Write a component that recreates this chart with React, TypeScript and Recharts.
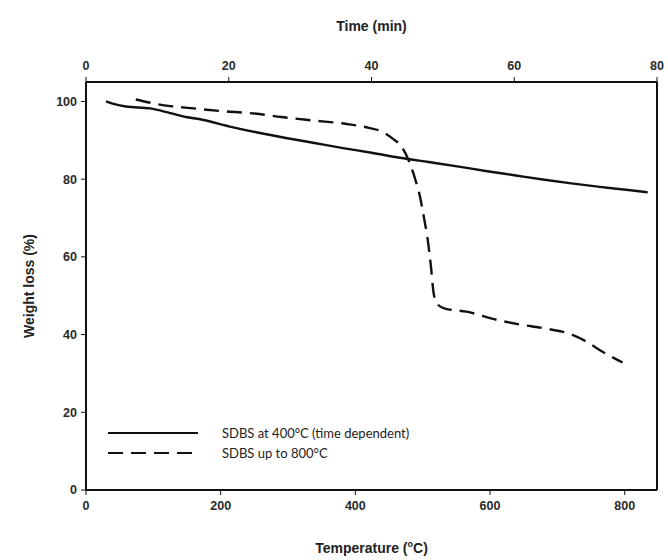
import React from 'react';
import { LineChart, Line, XAxis, YAxis } from 'recharts';

// SDBS at 400°C, weight (%) against time (min)
const timeMin = [2.8, 4, 5.6, 9, 11.8, 14, 16, 20, 24, 28, 32, 36, 40, 44, 48, 52, 56, 60, 64, 68, 72, 76, 78.7];
const weightAt400 = [100, 99.3, 98.7, 98.2, 97, 96, 95.4, 93.6, 92, 90.6, 89.3, 88, 86.8, 85.5, 84.4, 83.3, 82.1, 81, 79.9, 78.9, 78, 77.2, 76.6];

// SDBS up to 800°C, weight (%) against temperature (°C)
const tempC = [74, 116, 160, 209, 250, 290, 337, 387, 420, 440, 455, 468, 478, 488, 496, 502, 507, 512, 516, 521, 533, 565, 610, 644, 684, 718, 743, 767, 797];
const weightTo800 = [100.5, 99, 98.2, 97.4, 96.9, 96, 95.1, 94.2, 93.2, 92.2, 90.5, 88.5, 85.3, 80.5, 75.5, 70, 65, 58, 51, 48, 46.7, 45.9, 43.8, 42.6, 41.5, 40.2, 38.2, 35.6, 32.8];

const tempTicks = [0, 200, 400, 600, 800];
const timeTicks = [0, 20, 40, 60, 80];
const weightTicks = [0, 20, 40, 60, 80, 100];

const timeData = timeMin.map((t, i) => ({ time: t, weight: weightAt400[i] }));
const tempData = tempC.map((t, i) => ({ temp: t, weight: weightTo800[i] }));

const tickStyle = { fontFamily: 'Liberation Sans, Arial, sans-serif', fontWeight: 'bold', fontSize: 12.5, fill: '#2a2a2a' };
const titleFont = 'Liberation Sans, Arial, sans-serif';

const TimeTitle = (props: any) => {
  const { viewBox } = props;
  const cx = viewBox.x + viewBox.width / 2;
  return (
    <text x={cx} y={31} textAnchor="middle" fontFamily={titleFont} fontWeight="bold" fontSize={14} fill="#222">
      Time (min)
    </text>
  );
};

const TempTitle = (props: any) => {
  const { viewBox } = props;
  const cx = viewBox.x + viewBox.width / 2;
  return (
    <text x={cx} y={553} textAnchor="middle" fontFamily={titleFont} fontWeight="bold" fontSize={14} fill="#222">
      Temperature (<tspan dy={-6} fontSize={9}>o</tspan>
      <tspan dy={6}>C)</tspan>
    </text>
  );
};

const WeightTitle = () => (
  <text
    x={34}
    y={286}
    transform="rotate(-90 34 286)"
    textAnchor="middle"
    fontFamily={titleFont}
    fontWeight="bold"
    fontSize={14}
    fill="#222"
  >
    Weight loss (%)
  </text>
);

const legendRows = [
  { name: 'SDBS at 400°C (time dependent)', dash: undefined },
  { name: 'SDBS up to 800°C', dash: '15 8' },
];

const LegendBox = () => (
  <div style={{ position: 'absolute', left: 108, top: 423 }}>
    {legendRows.map((r) => (
      <div key={r.name} style={{ display: 'flex', alignItems: 'center', height: 20 }}>
        <svg width={92} height={6}>
          <line x1={0} y1={3} x2={90} y2={3} stroke="#111" strokeWidth={2.2} strokeDasharray={r.dash} />
        </svg>
        <span style={{ marginLeft: 22, fontFamily: 'Lato, sans-serif', fontSize: 13, color: '#222', whiteSpace: 'nowrap' }}>
          {r.name}
        </span>
      </div>
    ))}
  </div>
);

export default function App() {
  return (
    <div style={{ position: 'absolute', left: 0, top: 0, width: 668, height: 560, background: '#fff' }}>
      <LineChart width={668} height={560} margin={{ top: 0, right: 0, bottom: 0, left: 0 }}>
        <XAxis
          xAxisId="temp"
          dataKey="temp"
          type="number"
          domain={[0, 848]}
          ticks={tempTicks}
          height={70}
          tickSize={5}
          tickMargin={6}
          tick={tickStyle}
          axisLine={{ stroke: '#111', strokeWidth: 2 }}
          tickLine={{ stroke: '#111' }}
          label={<TempTitle />}
        />
        <XAxis
          xAxisId="time"
          dataKey="time"
          type="number"
          orientation="top"
          domain={[0, 80]}
          ticks={timeTicks}
          height={82}
          tickSize={5}
          tickMargin={7}
          tick={tickStyle}
          axisLine={{ stroke: '#111', strokeWidth: 2 }}
          tickLine={{ stroke: '#111' }}
          label={<TimeTitle />}
        />
        <YAxis
          yAxisId="w"
          type="number"
          domain={[0, 105]}
          ticks={weightTicks}
          width={86}
          tickSize={5}
          tickMargin={4}
          tick={tickStyle}
          axisLine={{ stroke: '#111', strokeWidth: 2 }}
          tickLine={{ stroke: '#111' }}
          label={<WeightTitle />}
        />
        <YAxis
          yAxisId="r"
          orientation="right"
          domain={[0, 105]}
          width={11}
          tick={false}
          tickLine={false}
          axisLine={{ stroke: '#111', strokeWidth: 2 }}
        />
        <Line
          data={timeData}
          xAxisId="time"
          yAxisId="w"
          dataKey="weight"
          name="SDBS at 400°C (time dependent)"
          type="monotone"
          stroke="#111"
          strokeWidth={2.4}
          dot={false}
          isAnimationActive={false}
        />
        <Line
          data={tempData}
          xAxisId="temp"
          yAxisId="w"
          dataKey="weight"
          name="SDBS up to 800°C"
          type="monotone"
          stroke="#111"
          strokeWidth={2.4}
          strokeDasharray="15 8"
          dot={false}
          isAnimationActive={false}
        />
      </LineChart>
      <LegendBox />
    </div>
  );
}
